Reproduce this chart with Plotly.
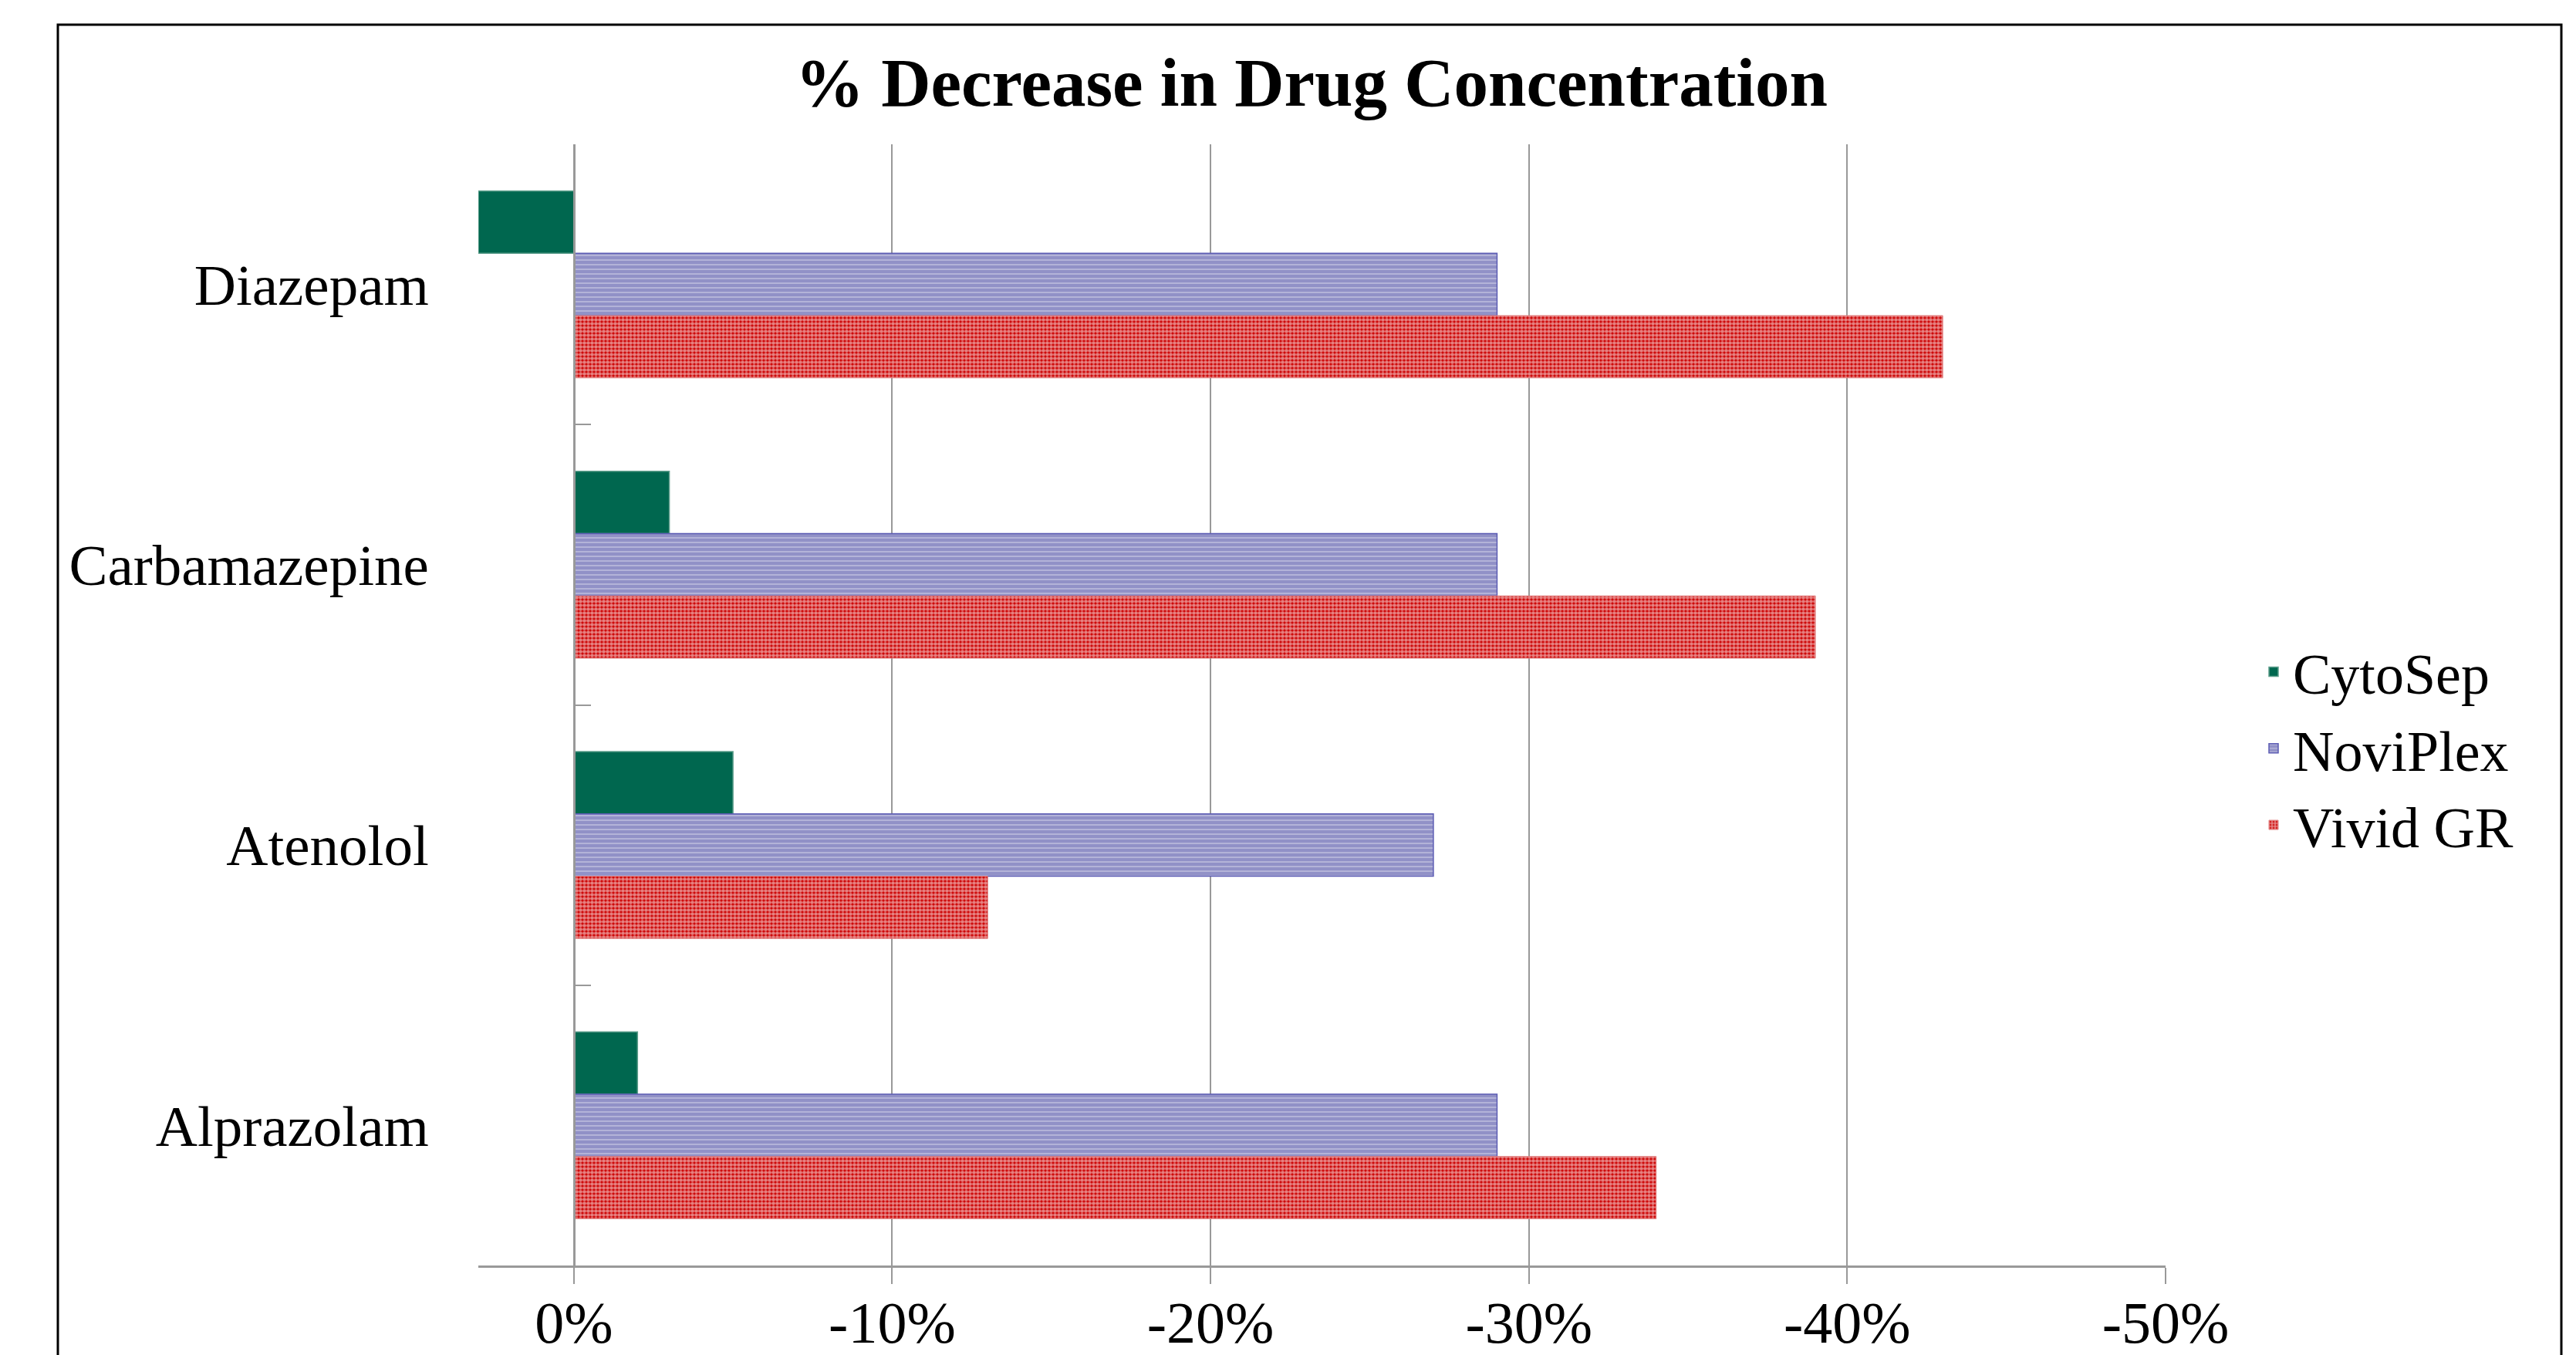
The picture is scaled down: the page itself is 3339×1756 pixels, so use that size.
import plotly.graph_objects as go

categories = ["Diazepam", "Carbamazepine", "Atenolol", "Alprazolam"]
cytosep = [0.03, -0.03, -0.05, -0.02]
noviplex = [-0.29, -0.29, -0.27, -0.29]
vivid_gr = [-0.43, -0.39, -0.13, -0.34]
series_names = ["CytoSep", "NoviPlex", "Vivid GR"]
x_tickvals = [0, -0.1, -0.2, -0.3, -0.4, -0.5]
x_ticktext = ["0%", "-10%", "-20%", "-30%", "-40%", "-50%"]
title_text = "% Decrease in Drug Concentration"

W, H = 3339, 1756
L, R, T, B = 620, 3339 - 2807, 187, 1756 - 1640
x_range = [0.03, -0.5]
plot_w = W - L - R
plot_h = H - T - B
# fraction of the plot width where x = 0 sits (category axis line)
zero_frac = (x_range[0] - 0) / (x_range[0] - x_range[1])

FONT = "Liberation Serif, Times New Roman, serif"

fig = go.Figure()
fig.add_trace(go.Bar(
    y=categories, x=cytosep, name=series_names[0], orientation="h",
    marker=dict(color="#00674F", line=dict(color="#5E9E8C", width=1.5)),
))
fig.add_trace(go.Bar(
    y=categories, x=noviplex, name=series_names[1], orientation="h",
    marker=dict(color="white", line=dict(color="#5C5CB4", width=1.5),
                pattern=dict(shape="-", fgcolor="#23238F", bgcolor="white",
                             size=6, solidity=0.9)),
))
fig.add_trace(go.Bar(
    y=categories, x=vivid_gr, name=series_names[2], orientation="h",
    marker=dict(color="#CC0000", line=dict(color="#E08080", width=1),
                pattern=dict(shape=".", fgcolor="white", bgcolor="#CC0000",
                             size=5, solidity=0.7)),
))

fig.update_layout(
    width=W, height=H,
    margin=dict(l=L, r=R, t=T, b=B, pad=0, autoexpand=False),
    paper_bgcolor="white", plot_bgcolor="white",
    barmode="group", bargap=1/3, bargroupgap=0,
    font=dict(family=FONT, size=75, color="black"),
    title=dict(text=title_text, x=1700 / W, xanchor="center",
               y=1 - 106 / H, yanchor="middle",
               font=dict(family=FONT, size=89, color="black", weight="bold")),
    legend=dict(x=(2922 - L) / plot_w, xanchor="left",
                y=1 - (970 - T) / plot_h, yanchor="middle",
                font=dict(family=FONT, size=74, color="black"),
                bgcolor="rgba(0,0,0,0)", itemwidth=40, tracegroupgap=0),
    xaxis=dict(range=x_range, automargin=False,
               tickvals=x_tickvals, ticktext=x_ticktext,
               showgrid=True, gridcolor="#999999", gridwidth=2,
               zeroline=False, showline=True, linecolor="#999999", linewidth=3,
               ticks="outside", ticklen=21, tickwidth=2, tickcolor="#999999",
               tickfont=dict(family=FONT, size=76, color="black"),
               ticklabelstandoff=-15),
    yaxis=dict(type="category", categoryorder="array", categoryarray=categories,
               autorange="reversed", anchor="free", automargin=False,
               position=zero_frac,
               showgrid=False, zeroline=False,
               showline=True, linecolor="#999999", linewidth=3,
               ticks="inside", tickson="boundaries", ticklen=20, tickwidth=2,
               tickcolor="#999999",
               tickfont=dict(family=FONT, size=75, color="black"),
               ticklabelstandoff=172),
    shapes=[dict(type="rect", xref="paper", yref="paper",
                 x0=(75 - L) / plot_w, x1=(3320 - L) / plot_w,
                 y0=-0.2, y1=1 + (T - 32) / plot_h,
                 line=dict(color="black", width=3), fillcolor="rgba(0,0,0,0)",
                 layer="below")],
)

fig.write_html("out.html")
